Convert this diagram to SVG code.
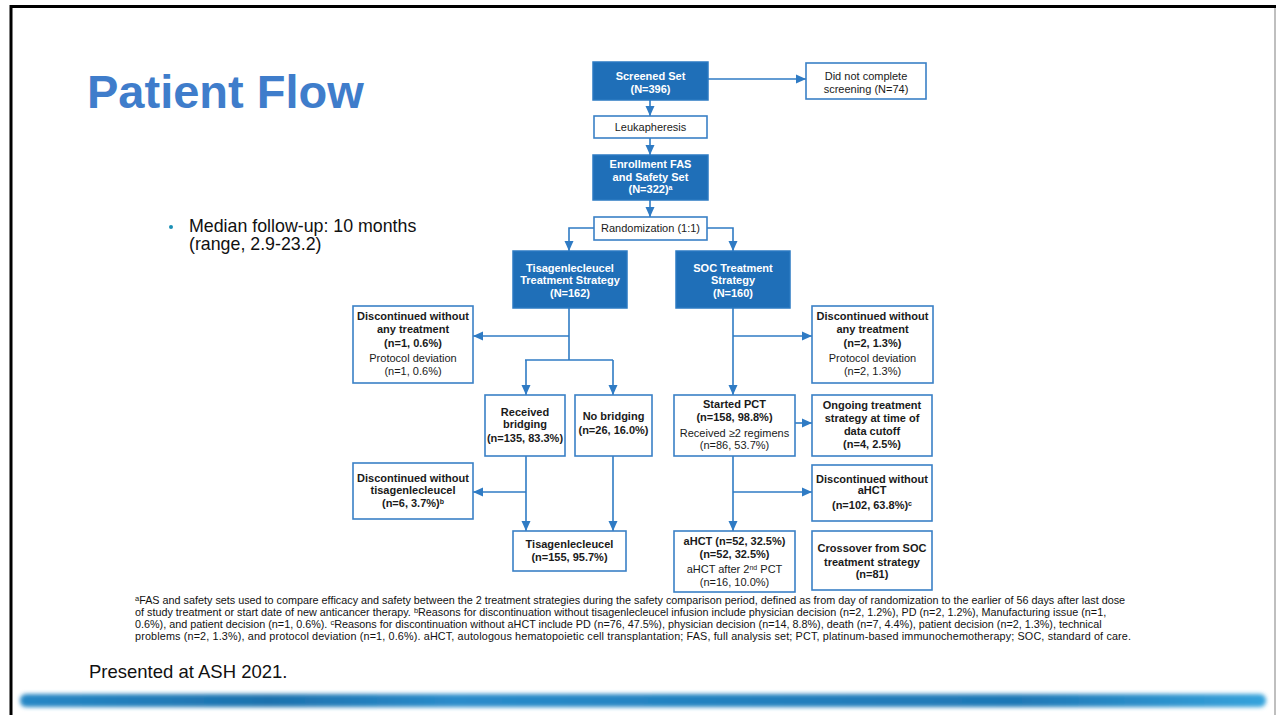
<svg xmlns="http://www.w3.org/2000/svg" width="1276" height="715" viewBox="0 0 1276 715">
<defs>
<style>
.fill{fill:#1F6FB8;stroke:#2B7AC2;stroke-width:1.5}
.box{fill:#fff;stroke:#3A80C6;stroke-width:1.6}
.t{font-family:"Liberation Sans",Arial,sans-serif;font-size:11px;text-anchor:middle;fill:#1a1a1a}
.b{font-weight:bold}
.w{fill:#fff;font-weight:bold}
.c{fill:none;stroke:#2F7BC4;stroke-width:1.6}
.fn{font-family:"Liberation Sans",Arial,sans-serif;font-size:10.8px;fill:#111}
.sup{font-size:7.5px}
</style>
<marker id="ah" markerUnits="userSpaceOnUse" markerWidth="10" markerHeight="10" viewBox="0 0 10 10" refX="10" refY="5" orient="auto">
<path d="M0,0.5 L10,5 L0,9.5 Z" fill="#2F7BC4"/>
</marker>
<linearGradient id="bar" x1="0" y1="0" x2="1" y2="0">
<stop offset="0" stop-color="#2788c6"/>
<stop offset="0.2" stop-color="#1d72ae"/>
<stop offset="0.35" stop-color="#2a8ccb"/>
<stop offset="0.55" stop-color="#2382c0"/>
<stop offset="0.8" stop-color="#1f78b6"/>
<stop offset="1" stop-color="#35a3dc"/>
</linearGradient>
<filter id="blur" x="-5%" y="-100%" width="110%" height="300%"><feGaussianBlur stdDeviation="2.2"/></filter>
</defs>
<rect width="1276" height="715" fill="#fff"/>
<path d="M11,715 V6.5 H1276" fill="none" stroke="#000" stroke-width="3"/>
<line x1="1275" y1="8" x2="1275" y2="715" stroke="#aaa" stroke-width="1.5"/>
<rect x="20" y="694" width="1246" height="13" rx="6" fill="url(#bar)" filter="url(#blur)"/>

<text x="87" y="108" font-family="Liberation Sans,Arial,sans-serif" font-size="47" font-weight="bold" fill="#3F7DCB">Patient Flow</text>
<g id="bullet">
<circle cx="171" cy="227" r="2" fill="#1a8fb5"/>
<text x="189" y="232" font-family="Liberation Sans,Arial,sans-serif" font-size="17.8" fill="#111">Median follow-up: 10 months</text>
<text x="189" y="250" font-family="Liberation Sans,Arial,sans-serif" font-size="17.8" fill="#111">(range, 2.9-23.2)</text>
</g>

<g id="connectors">
<line class="c" x1="708" y1="79" x2="806" y2="79" marker-end="url(#ah)"/>
<line class="c" x1="650" y1="100" x2="650" y2="116" marker-end="url(#ah)"/>
<line class="c" x1="650" y1="138" x2="650" y2="155" marker-end="url(#ah)"/>
<line class="c" x1="650" y1="200" x2="650" y2="217" marker-end="url(#ah)"/>
<polyline class="c" points="594,228 569,228 569,251" marker-end="url(#ah)"/>
<polyline class="c" points="707,228 733,228 733,251" marker-end="url(#ah)"/>
<line class="c" x1="569" y1="308" x2="569" y2="360"/>
<line class="c" x1="569" y1="336" x2="473" y2="336" marker-end="url(#ah)"/>
<line class="c" x1="525" y1="360" x2="613" y2="360"/>
<line class="c" x1="526" y1="360" x2="526" y2="395" marker-end="url(#ah)"/>
<line class="c" x1="613" y1="360" x2="613" y2="395" marker-end="url(#ah)"/>
<line class="c" x1="526" y1="456" x2="526" y2="531" marker-end="url(#ah)"/>
<line class="c" x1="526" y1="492" x2="473" y2="492" marker-end="url(#ah)"/>
<line class="c" x1="613" y1="456" x2="613" y2="531" marker-end="url(#ah)"/>
<line class="c" x1="733" y1="308" x2="733" y2="395" marker-end="url(#ah)"/>
<line class="c" x1="733" y1="336" x2="812" y2="336" marker-end="url(#ah)"/>
<line class="c" x1="795" y1="423" x2="812" y2="423" marker-end="url(#ah)"/>
<line class="c" x1="733" y1="456" x2="733" y2="531" marker-end="url(#ah)"/>
<line class="c" x1="733" y1="492" x2="812" y2="492" marker-end="url(#ah)"/>
</g>

<g id="screened"><rect class="fill" x="593" y="62" width="115" height="38"/>
<text class="t w" x="650.5" y="80">Screened Set</text><text class="t w" x="650.5" y="93">(N=396)</text></g>
<g id="notcomplete"><rect class="box" x="806" y="63" width="120" height="36"/>
<text class="t" x="866" y="80">Did not complete</text><text class="t" x="866" y="93">screening (N=74)</text></g>
<g id="leuk"><rect class="box" x="594" y="116" width="113" height="22"/>
<text class="t" x="650.5" y="131">Leukapheresis</text></g>
<g id="enroll"><rect class="fill" x="593" y="155" width="115" height="45"/>
<text class="t w" x="650.5" y="168">Enrollment FAS</text><text class="t w" x="650.5" y="181">and Safety Set</text><text class="t w" x="650.5" y="193">(N=322)<tspan font-size="7" dy="-3">a</tspan></text></g>
<g id="random"><rect class="box" x="594" y="217" width="113" height="23"/>
<text class="t" x="650.5" y="232">Randomization (1:1)</text></g>
<g id="tisa"><rect class="fill" x="513" y="251" width="114" height="57"/>
<text class="t w" x="570" y="272">Tisagenlecleucel</text><text class="t w" x="570" y="284">Treatment Strategy</text><text class="t w" x="570" y="297">(N=162)</text></g>
<g id="soc"><rect class="fill" x="676" y="251" width="114" height="57"/>
<text class="t w" x="733" y="272">SOC Treatment</text><text class="t w" x="733" y="284">Strategy</text><text class="t w" x="733" y="297">(N=160)</text></g>
<g id="disc1"><rect class="box" x="353" y="306" width="120" height="77"/>
<text class="t b" x="413" y="320">Discontinued without</text><text class="t b" x="413" y="333">any treatment</text><text class="t b" x="413" y="347">(n=1, 0.6%)</text><text class="t" x="413" y="362">Protocol deviation</text><text class="t" x="413" y="375">(n=1, 0.6%)</text></g>
<g id="disc2"><rect class="box" x="812" y="306" width="121" height="77"/>
<text class="t b" x="872.5" y="320">Discontinued without</text><text class="t b" x="872.5" y="333">any treatment</text><text class="t b" x="872.5" y="347">(n=2, 1.3%)</text><text class="t" x="872.5" y="362">Protocol deviation</text><text class="t" x="872.5" y="375">(n=2, 1.3%)</text></g>
<g id="received"><rect class="box" x="485" y="395" width="80" height="61"/>
<text class="t b" x="525" y="416">Received</text><text class="t b" x="525" y="428">bridging</text><text class="t b" x="525" y="442">(n=135, 83.3%)</text></g>
<g id="nobridging"><rect class="box" x="575" y="395" width="77" height="61"/>
<text class="t b" x="613.5" y="420">No bridging</text><text class="t b" x="613.5" y="434">(n=26, 16.0%)</text></g>
<g id="started"><rect class="box" x="674" y="395" width="121" height="61"/>
<text class="t b" x="734.5" y="408">Started PCT</text><text class="t b" x="734.5" y="421">(n=158, 98.8%)</text><text class="t" x="734.5" y="437">Received ≥2 regimens</text><text class="t" x="734.5" y="449">(n=86, 53.7%)</text></g>
<g id="ongoing"><rect class="box" x="812" y="395" width="120" height="61"/>
<text class="t b" x="872" y="409">Ongoing treatment</text><text class="t b" x="872" y="422">strategy at time of</text><text class="t b" x="872" y="435">data cutoff</text><text class="t b" x="872" y="448">(n=4, 2.5%)</text></g>
<g id="disc3"><rect class="box" x="353" y="463" width="120" height="56"/>
<text class="t b" x="413" y="482">Discontinued without</text><text class="t b" x="413" y="494">tisagenlecleucel</text><text class="t b" x="413" y="507">(n=6, 3.7%)<tspan font-size="7" dy="-3">b</tspan></text></g>
<g id="disc4"><rect class="box" x="812" y="465" width="120" height="56"/>
<text class="t b" x="872" y="483">Discontinued without</text><text class="t b" x="872" y="494">aHCT</text><text class="t b" x="872" y="509">(n=102, 63.8%)<tspan font-size="7" dy="-3">c</tspan></text></g>
<g id="tisa2"><rect class="box" x="513" y="531" width="113" height="40"/>
<text class="t b" x="569.5" y="548">Tisagenlecleucel</text><text class="t b" x="569.5" y="561">(n=155, 95.7%)</text></g>
<g id="ahct"><rect class="box" x="674" y="531" width="121" height="61"/>
<text class="t b" x="734.5" y="545">aHCT (n=52, 32.5%)</text><text class="t b" x="734.5" y="558">(n=52, 32.5%)</text><text class="t" x="734.5" y="573">aHCT after 2<tspan font-size="7" dy="-3">nd</tspan><tspan dy="3"> PCT</tspan></text><text class="t" x="734.5" y="586">(n=16, 10.0%)</text></g>
<g id="crossover"><rect class="box" x="812" y="531" width="120" height="59"/>
<text class="t b" x="872" y="552">Crossover from SOC</text><text class="t b" x="872" y="566">treatment strategy</text><text class="t b" x="872" y="578">(n=81)</text></g>

<g id="footnote">
<text class="fn" x="135" y="604"><tspan class="sup" dy="-3">a</tspan><tspan dy="3">FAS and safety sets used to compare efficacy and safety between the 2 treatment strategies during the safety comparison period, defined as from day of randomization to the earlier of 56 days after last dose</tspan></text>
<text class="fn" x="135" y="616">of study treatment or start date of new anticancer therapy. <tspan class="sup" dy="-3">b</tspan><tspan dy="3">Reasons for discontinuation without tisagenlecleucel infusion include physician decision (n=2, 1.2%), PD (n=2, 1.2%), Manufacturing issue (n=1,</tspan></text>
<text class="fn" x="135" y="628">0.6%), and patient decision (n=1, 0.6%). <tspan class="sup" dy="-3">c</tspan><tspan dy="3">Reasons for discontinuation without aHCT include PD (n=76, 47.5%), physician decision (n=14, 8.8%), death (n=7, 4.4%), patient decision (n=2, 1.3%), technical</tspan></text>
<text class="fn" x="135" y="640" textLength="996" lengthAdjust="spacing">problems (n=2, 1.3%), and protocol deviation (n=1, 0.6%). aHCT, autologous hematopoietic cell transplantation; FAS, full analysis set; PCT, platinum-based immunochemotherapy; SOC, standard of care.</text>
</g>
<text x="89" y="678" font-family="Liberation Sans,Arial,sans-serif" font-size="18.5" fill="#111">Presented at ASH 2021.</text>
</svg>
